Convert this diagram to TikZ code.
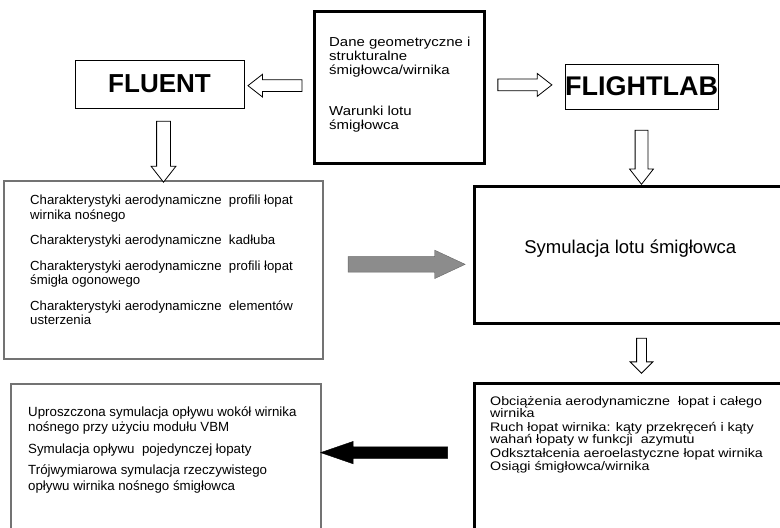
\documentclass[tikz,border=0pt]{standalone}
\usepackage{fontspec}
\setmainfont{Liberation Sans}
\newfontfamily\widesans[FakeStretch=1.15]{Liberation Sans}
\usetikzlibrary{arrows.meta,positioning,shapes.arrows,calc}
\newcommand\tightlines{\lineskiplimit=-6pt\relax}

\begin{document}
\begin{tikzpicture}[x=1pt,y=-1pt,
  thickbox/.style={draw,line width=2.6pt,inner sep=0pt,anchor=north west},
  thinbox/.style={draw,line width=1pt,inner sep=0pt},
  greybox/.style={draw=black!55,line width=1.8pt,inner sep=0pt,anchor=north west},
  txt/.style={align=left,inner sep=0pt,anchor=north west},
  hollow/.style={single arrow,draw,line width=0.8pt,fill=white,inner xsep=0pt,
    inner ysep=5.5pt,single arrow head extend=5.5pt,single arrow tip angle=76},
  solid/.style={single arrow,inner xsep=0pt,inner ysep=6pt,single arrow head extend=6pt}]
\useasboundingbox (0,0) rectangle (780,528);
\clip (0,0) rectangle (780,528);
% boxes
\node[thickbox,minimum width=170pt,minimum height=152pt] (dane) at (313,10) {};
\node[thinbox,minimum width=169pt,minimum height=48pt,font=\bfseries\fontsize{26}{26}\selectfont] (fluent) at (159.5,84) {FLUENT};
\node[thinbox,line width=0.8pt,minimum width=153pt,minimum height=45pt,font=\bfseries\fontsize{27}{27}\selectfont] (flightlab) at (641.5,86.5) {FLIGHTLAB};
\node[greybox,minimum width=319pt,minimum height=178pt] (charbox) at (3,180) {};
\node[thickbox,minimum width=312pt,minimum height=137pt] (symul) at (473,185) {};
\node[thickbox,minimum width=312pt,minimum height=160pt] (resbox) at (473,382) {};
\node[greybox,minimum width=310pt,minimum height=160pt] (simbox) at (10,383) {};
% texts
\node[txt,font=\widesans\fontsize{13}{14}\selectfont\tightlines] (danetxt) at (329,37) {Dane geometryczne i\\ strukturalne\\ śmigłowca/wirnika\\[27pt] Warunki lotu\\ śmigłowca};
\node[txt,font=\fontsize{13.2}{14.5}\selectfont] (chartxt) at (30,195) {Charakterystyki aerodynamiczne\ \ profili łopat\\ wirnika nośnego\\[11pt]
  Charakterystyki aerodynamiczne\ \ kadłuba\\[11pt]
  Charakterystyki aerodynamiczne\ \ profili łopat\\ śmigła ogonowego\\[11pt]
  Charakterystyki aerodynamiczne\ \ elementów\\ usterzenia};
\node[font=\fontsize{18.5}{18.5}\selectfont] (symtxt) at ($(symul.center)+(0,-6)$) {Symulacja lotu śmigłowca};
\node[txt,font=\widesans\fontsize{12.4}{12.6}\selectfont\tightlines] (restxt) at (490,396) {Obciążenia aerodynamiczne\ \ łopat i całego\\ wirnika\\[0.8pt]
  Ruch łopat wirnika: kąty przekręceń i kąty\\ wahań łopaty w funkcji\ \ azymutu\\[1.2pt]
  Odkształcenia aeroelastyczne łopat wirnika\\[0.6pt]
  Osiągi śmigłowca/wirnika};
\node[txt,font=\fontsize{13.3}{15.5}\selectfont] (simtxt) at (28,406) {Uproszczona symulacja opływu wokół wirnika\\ nośnego przy użyciu modułu VBM\\[6pt]
  Symulacja opływu\ \ pojedynczej łopaty\\[6pt]
  Trójwymiarowa symulacja rzeczywistego\\ opływu wirnika nośnego śmigłowca};
% arrows
\node[hollow,rotate=180,minimum height=54pt] (a1) at ($(dane.west)!0.5!(fluent.east)$) {};
\node[hollow,minimum height=54pt] (a2) at ($(dane.east)!0.5!(flightlab.west)+(-4,-2)$) {};
\node[hollow,rotate=-90,minimum height=61pt,inner ysep=6.5pt] (a3) at ($(fluent.south)!0.5!(fluent.south |- charbox.north)+(4,3)$) {};
\node[hollow,rotate=-90,minimum height=54pt,inner ysep=6pt] (a4) at ($(flightlab.south)!0.5!(flightlab.south |- symul.north)+(0,6)$) {};
\node[hollow,rotate=-90,minimum height=35pt,inner ysep=4.5pt,single arrow head extend=6.5pt,single arrow tip angle=90] (a5) at ($(flightlab.south |- symul.south)!0.5!(flightlab.south |- resbox.north)$) {};
\node[solid,draw=black!60,fill=black!45,minimum height=117pt,inner ysep=7.5pt,single arrow head extend=6.5pt,single arrow tip angle=50] (a6) at ($(charbox.east)!0.5!(symul.west)+(0,2)$) {};
\node[solid,draw,fill=black,rotate=180,minimum height=127pt,inner ysep=5.5pt,single arrow head extend=5.5pt,single arrow tip angle=38] (a7) at ($(simbox.east)!0.5!(resbox.west)+(-5,-11)$) {};
\end{tikzpicture}
\end{document}
